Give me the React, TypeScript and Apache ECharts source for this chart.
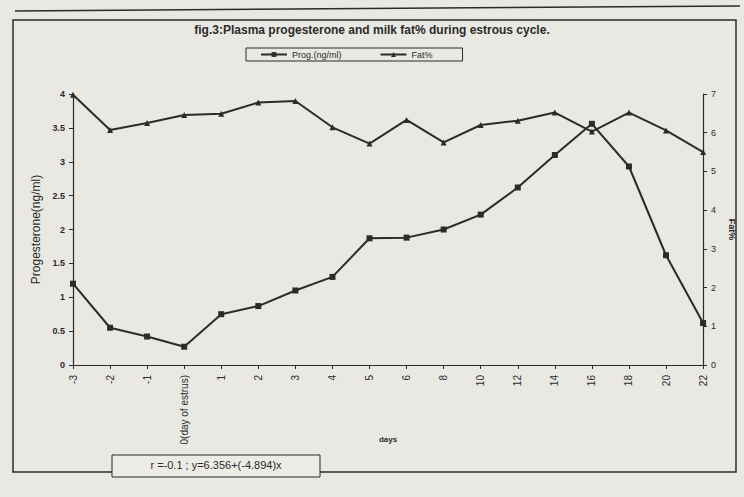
import React, { useEffect, useRef } from "react";
import * as echarts from "echarts";

const days = ["-3", "-2", "-1", "0(day of estrus)", "1", "2", "3", "4", "5", "6", "8", "10", "12", "14", "16", "18", "20", "22"];
const prog = [1.2, 0.55, 0.42, 0.27, 0.75, 0.87, 1.1, 1.3, 1.87, 1.88, 2.0, 2.22, 2.62, 3.1, 3.56, 2.93, 1.62, 0.62];
const fat = [6.98, 6.07, 6.25, 6.46, 6.49, 6.78, 6.82, 6.14, 5.72, 6.33, 5.75, 6.2, 6.31, 6.52, 6.03, 6.52, 6.06, 5.5];
const titleText = "fig.3:Plasma progesterone and milk fat% during estrous cycle.";
const formulaText = "r =-0.1 ; y=6.356+(-4.894)x";

export default function App() {
  const ref = useRef<HTMLDivElement>(null);
  useEffect(() => {
    const chart = echarts.init(ref.current!, null, { renderer: "svg" });
    const ink = "#2b2b2b";
    const font = "Liberation Sans, Arial, sans-serif";
    chart.setOption({
      animation: false,
      backgroundColor: "#e9e8e3",
      textStyle: { fontFamily: font, color: ink },
      title: {
        text: titleText,
        left: "center",
        top: 19,
        textStyle: { fontSize: 12, fontWeight: "bold", color: ink, fontFamily: font },
      },
      legend: {
        top: 48,
        left: 246,
        width: 220,
        itemGap: 38,
        itemWidth: 26,
        itemHeight: 6,
        borderColor: ink,
        borderWidth: 1,
        padding: [2, 30, 2, 14],
        textStyle: { fontSize: 9, color: ink, fontFamily: font },
        data: ["Prog.(ng/ml)", "Fat%"],
      },
      grid: { left: 73, right: 34, top: 94, bottom: 132 },
      xAxis: {
        type: "category",
        data: days,
        boundaryGap: false,
        name: "days",
        nameLocation: "middle",
        nameGap: 70,
        nameMoveOverlap: false,
        nameTextStyle: { fontSize: 8, fontWeight: "bold", color: ink },
        axisLine: { lineStyle: { color: ink, width: 1.2 } },
        axisTick: { alignWithLabel: true, length: 4, lineStyle: { color: ink } },
        axisLabel: { rotate: 90, fontSize: 10, color: ink, margin: 10, interval: 0 },
      },
      yAxis: [
        {
          type: "value",
          min: 0,
          max: 4,
          interval: 0.5,
          name: "Progesterone(ng/ml)",
          nameLocation: "middle",
          nameGap: 30,
          nameRotate: 90,
          nameTextStyle: { fontSize: 12, color: ink },
          splitLine: { show: false },
          axisLine: { show: true, lineStyle: { color: ink, width: 1.2 } },
          axisTick: { show: true, length: 4, lineStyle: { color: ink } },
          axisLabel: { fontSize: 9, fontWeight: "bold", color: ink, margin: 8 },
        },
        {
          type: "value",
          min: 0,
          max: 7,
          interval: 1,
          name: "Fat%",
          nameLocation: "middle",
          nameGap: 20,
          nameRotate: -90,
          nameTextStyle: { fontSize: 9, fontWeight: "bold", color: ink },
          splitLine: { show: false },
          axisLine: { show: true, lineStyle: { color: ink, width: 1.2 } },
          axisTick: { show: true, length: 4, lineStyle: { color: ink } },
          axisLabel: { fontSize: 9, color: ink, margin: 8 },
        },
      ],
      series: [
        {
          name: "Prog.(ng/ml)",
          type: "line",
          yAxisIndex: 0,
          data: prog,
          symbol: "rect",
          symbolSize: 6,
          lineStyle: { color: ink, width: 2 },
          itemStyle: { color: ink },
        },
        {
          name: "Fat%",
          type: "line",
          yAxisIndex: 1,
          data: fat,
          symbol: "triangle",
          symbolSize: 6,
          lineStyle: { color: ink, width: 2 },
          itemStyle: { color: ink },
        },
      ],
      graphic: [
        {
          type: "rect",
          shape: { x: 13, y: 20, width: 723, height: 452 },
          style: { fill: "none", stroke: ink, lineWidth: 1.5 },
          silent: true,
        },
        {
          type: "line",
          shape: { x1: 15, y1: 11, x2: 740, y2: 6 },
          style: { stroke: ink, lineWidth: 1.5 },
          silent: true,
        },
        {
          type: "rect",
          shape: { x: 112, y: 455, width: 208, height: 22 },
          style: { fill: "#ecebe6", stroke: ink, lineWidth: 1 },
          silent: true,
        },
        {
          type: "text",
          x: 216,
          y: 465,
          style: {
            text: formulaText,
            fontSize: 11,
            fontFamily: font,
            fill: ink,
            align: "center",
            verticalAlign: "middle",
          },
          silent: true,
        },
      ],
    });
    return () => chart.dispose();
  }, []);
  return <div ref={ref} style={{ position: "fixed", left: 0, top: 0, width: 744, height: 497 }} />;
}
